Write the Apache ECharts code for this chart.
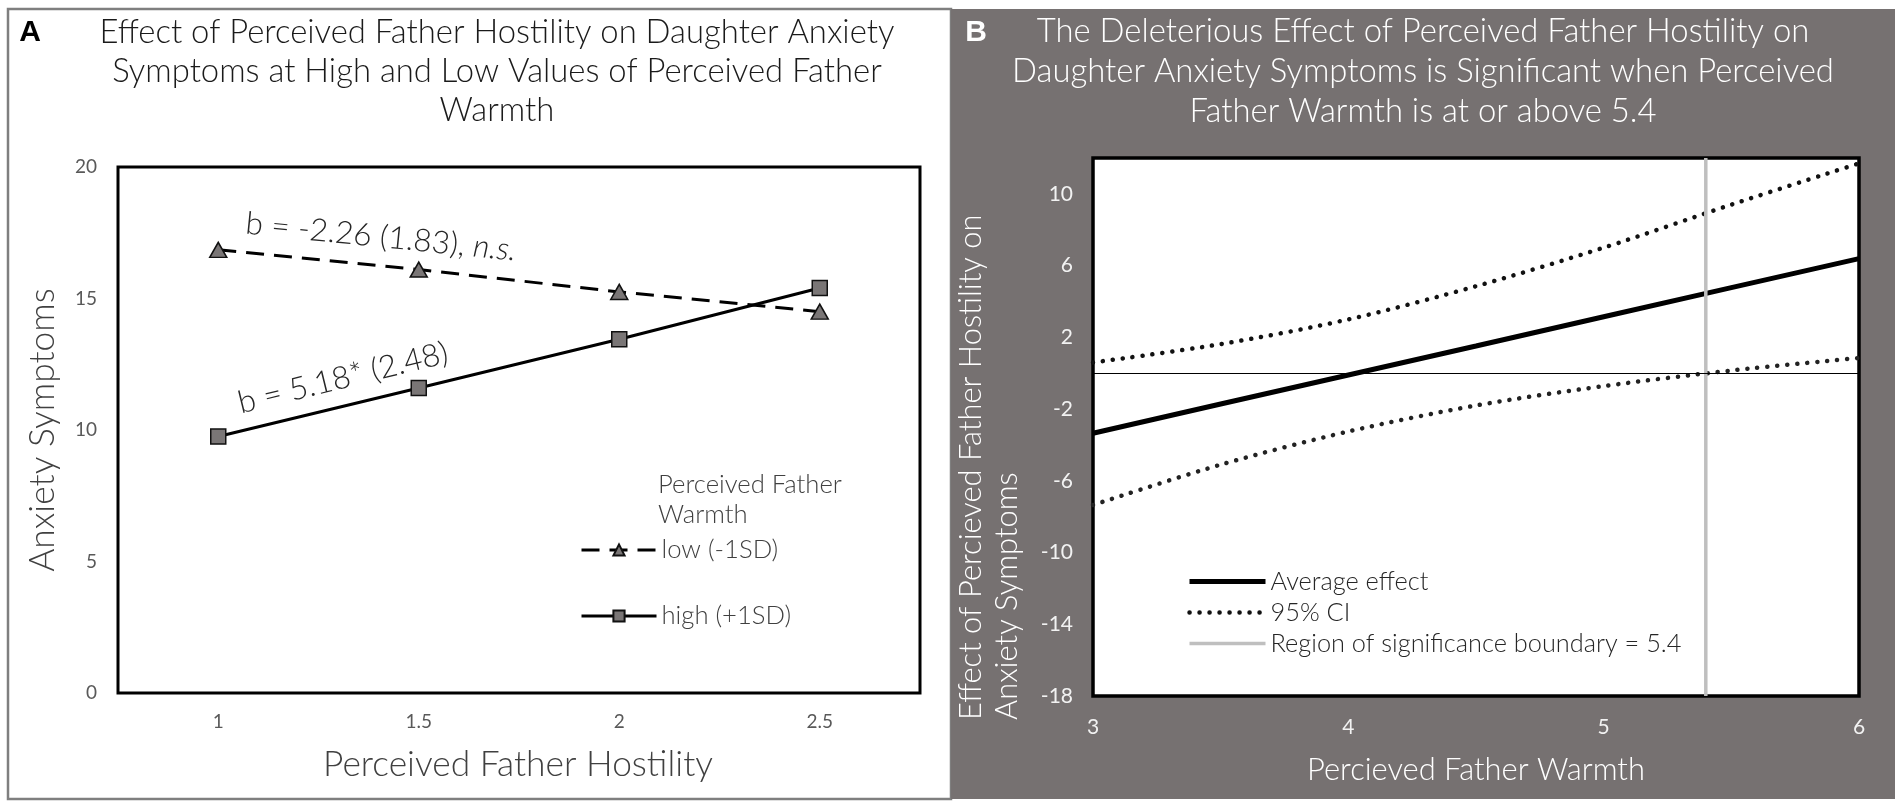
<!DOCTYPE html>
<html><head><meta charset="utf-8">
<script src="https://cdn.jsdelivr.net/npm/echarts@6/dist/echarts.min.js"></script>
<style>html,body{margin:0;padding:0;background:#fff;}#c{width:1904px;height:808px;}</style>
</head><body><div id="c"></div>
<script>
// ---- Panel A data ----
const hostility = ['1', '1.5', '2', '2.5'];
const lowWarmth = [16.85, 16.1, 15.25, 14.5];
const highWarmth = [9.75, 11.6, 13.45, 15.4];
const leftYTicks = [0, 5, 10, 15, 20];

// ---- Panel B data ----
const warmth = [3, 3.5, 4, 4.5, 5, 5.5, 6];
const avgEffect = [-3.35, -1.72, -0.1, 1.52, 3.15, 4.77, 6.39];
const ciUpper = [0.6, 1.62, 3.0, 4.85, 7.0, 9.4, 11.7];
const ciLower = [-7.35, -5.1, -3.25, -1.8, -0.72, 0.15, 0.85];
const sigBoundary = 5.4;
const rightYTicks = [-18, -14, -10, -6, -2, 2, 6, 10];
const rightYMax = 12;

const cv = document.createElement('canvas').getContext('2d');
function fit(text, weight, family, width) {
  cv.font = weight + ' 100px ' + family;
  return 100 * width / cv.measureText(text).width;
}
const F = 'Lato';
const titleSize = fit('Effect of Perceived Father Hostility on Daughter Anxiety', 300, F, 795);
const axTitleL = fit('Perceived Father Hostility', 300, F, 390);
const axTitleR = fit('Percieved Father Warmth', 300, F, 338);
const annotSize = fit('b = 5.18* (2.48)', 300, F, 215);
const legL = fit('Perceived Father', 300, F, 184);
const legR = fit('Average effect', 300, F, 158);

const pairs = (xs, ys) => xs.map((x, i) => [x, ys[i]]);

const chart = echarts.init(document.getElementById('c'));
const option = {
  animation: false,
  backgroundColor: '#fff',
  graphic: [
    { type: 'rect', z: -5, shape: { x: 8, y: 9, width: 943, height: 790 }, style: { fill: '#fff', stroke: '#7f7f7f', lineWidth: 2.5 } },
    { type: 'rect', z: -5, shape: { x: 951, y: 9, width: 944, height: 790 }, style: { fill: '#767171' } },
    { type: 'text', z: 100, x: 30, y: 33, style: { text: 'A', fontSize: 30, fontWeight: 'bold', fontFamily: 'Liberation Sans', fill: '#000', align: 'center', verticalAlign: 'middle' } },
    { type: 'text', z: 100, x: 976, y: 33, style: { text: 'B', fontSize: 30, fontWeight: 'bold', fontFamily: 'Liberation Sans', fill: '#fff', align: 'center', verticalAlign: 'middle' } },
    { type: 'text', z: 100, x: 497, y: 71, style: { text: 'Effect of Perceived Father Hostility on Daughter Anxiety\nSymptoms at High and Low Values of Perceived Father\nWarmth', fontSize: titleSize, fontWeight: 300, fontFamily: F, lineHeight: 39, fill: '#1a1a1a', align: 'center', verticalAlign: 'middle' } },
    { type: 'text', z: 100, x: 1423, y: 71, style: { text: 'The Deleterious Effect of Perceived Father Hostility on\nDaughter Anxiety Symptoms is Significant when Perceived\nFather Warmth is at or above 5.4', fontSize: titleSize, fontWeight: 300, fontFamily: F, lineHeight: 40, fill: '#fff', align: 'center', verticalAlign: 'middle' } },
    { type: 'text', z: 100, x: 43, y: 430, rotation: Math.PI / 2, style: { text: 'Anxiety Symptoms', fontSize: axTitleL, fontWeight: 300, fontFamily: F, fill: '#404040', align: 'center', verticalAlign: 'middle' } },
    { type: 'text', z: 100, x: 518, y: 765, style: { text: 'Perceived Father Hostility', fontSize: axTitleL, fontWeight: 300, fontFamily: F, fill: '#404040', align: 'center', verticalAlign: 'middle' } },
    { type: 'text', z: 100, x: 381, y: 237, rotation: -5.7 * Math.PI / 180, style: { text: '{n|b = -2.26 (1.83), }{i|n.s.}', rich: { n: { fontSize: annotSize, fontWeight: 300, fontFamily: F, fill: '#262626' }, i: { fontSize: annotSize, fontWeight: 300, fontFamily: F, fontStyle: 'italic', fill: '#262626' } }, align: 'center', verticalAlign: 'middle' } },
    { type: 'text', z: 100, x: 343, y: 378, rotation: 13.8 * Math.PI / 180, style: { text: 'b = 5.18* (2.48)', fontSize: annotSize, fontWeight: 300, fontFamily: F, fill: '#262626', align: 'center', verticalAlign: 'middle' } },
    { type: 'text', z: 100, x: 658, y: 470, style: { text: 'Perceived Father\nWarmth', fontSize: legL, fontWeight: 300, fontFamily: F, lineHeight: 30, fill: '#404040', align: 'left', verticalAlign: 'top' } },
    { type: 'text', z: 100, x: 953, y: 720, rotation: Math.PI / 2, style: { text: 'Effect of Percieved Father Hostility on\nAnxiety Symptoms', fontSize: axTitleR, fontWeight: 300, fontFamily: F, lineHeight: 36, fill: '#fff', align: 'left', verticalAlign: 'top' } },
    { type: 'text', z: 100, x: 1476, y: 770, style: { text: 'Percieved Father Warmth', fontSize: axTitleR, fontWeight: 300, fontFamily: F, fill: '#fff', align: 'center', verticalAlign: 'middle' } }
  ],
  grid: [
    { left: 118, top: 167, width: 802, height: 526, show: true, backgroundColor: '#fff', borderColor: '#000', borderWidth: 3, containLabel: false },
    { left: 1093, top: 158, width: 766, height: 538, show: true, backgroundColor: '#fff', borderColor: '#000', borderWidth: 3.5, containLabel: false }
  ],
  xAxis: [
    { type: 'category', gridIndex: 0, data: hostility, boundaryGap: true,
      axisLine: { show: false }, axisTick: { show: false }, splitLine: { show: false },
      axisLabel: { color: '#595959', fontSize: 19, fontFamily: F, margin: 19 } },
    { type: 'value', gridIndex: 1, min: 3, max: 6, interval: 1,
      axisLine: { show: false }, axisTick: { show: false }, splitLine: { show: false },
      axisLabel: { color: '#f2f2f2', fontSize: 21, fontFamily: F, margin: 21 } }
  ],
  yAxis: [
    { type: 'value', gridIndex: 0, min: leftYTicks[0], max: leftYTicks[leftYTicks.length - 1], interval: 5,
      axisLine: { show: false }, axisTick: { show: false }, splitLine: { show: false },
      axisLabel: { color: '#595959', fontSize: 19, fontFamily: F, margin: 21 } },
    { type: 'value', gridIndex: 1, min: rightYTicks[0], max: rightYMax, interval: 4,
      axisLine: { show: false }, axisTick: { show: false }, splitLine: { show: false },
      axisLabel: { color: '#f2f2f2', fontSize: 21, fontFamily: F, margin: 20, showMaxLabel: false } }
  ],
  legend: [
    { data: ['low (-1SD)', 'high (+1SD)'], orient: 'vertical', left: 575, top: 532, itemWidth: 75, itemHeight: 14, itemGap: 40, selectedMode: false,
      lineStyle: { width: 'inherit' },
      textStyle: { color: '#404040', fontSize: legL, fontWeight: 300, fontFamily: F, lineHeight: 24 } },
    { data: ['Average effect', '95% CI', 'Region of significance boundary = ' + sigBoundary], orient: 'vertical', left: 1182, top: 564, itemWidth: 76, itemHeight: 14, itemGap: 6, selectedMode: false,
      itemStyle: { opacity: 0 }, lineStyle: { width: 'inherit' },
      textStyle: { color: '#262626', fontSize: legR, fontWeight: 300, fontFamily: F, lineHeight: 22 } }
  ],
  series: [
    { name: 'low (-1SD)', type: 'line', xAxisIndex: 0, yAxisIndex: 0, data: lowWarmth,
      symbol: 'triangle', symbolSize: [17, 15],
      lineStyle: { color: '#000', width: 3, type: [18, 10] },
      itemStyle: { color: '#7a7676', borderColor: '#111', borderWidth: 1.5 } },
    { name: 'high (+1SD)', type: 'line', xAxisIndex: 0, yAxisIndex: 0, data: highWarmth,
      symbol: 'rect', symbolSize: 15,
      lineStyle: { color: '#000', width: 3 },
      itemStyle: { color: '#7a7676', borderColor: '#111', borderWidth: 1.5 } },
    { name: 'Average effect', type: 'line', xAxisIndex: 1, yAxisIndex: 1, data: pairs(warmth, avgEffect),
      symbol: 'none', lineStyle: { color: '#000', width: 5 }, itemStyle: { color: '#000' },
      markLine: { silent: true, symbol: 'none', label: { show: false }, lineStyle: { color: '#000', width: 1, type: 'solid' }, data: [{ yAxis: 0 }] } },
    { name: '95% CI', type: 'line', xAxisIndex: 1, yAxisIndex: 1, data: pairs(warmth, ciUpper), smooth: 0.3,
      symbol: 'none', lineStyle: { color: '#111', width: 4.5, type: [0.1, 9.9], cap: 'round' }, itemStyle: { color: '#111' } },
    { name: '95% CI', type: 'line', xAxisIndex: 1, yAxisIndex: 1, data: pairs(warmth, ciLower), smooth: 0.3,
      symbol: 'none', lineStyle: { color: '#222', width: 4.5, type: [0.1, 9.9], cap: 'round' }, itemStyle: { color: '#222' } },
    { name: 'Region of significance boundary = ' + sigBoundary, type: 'line', xAxisIndex: 1, yAxisIndex: 1,
      data: [[sigBoundary, rightYTicks[0]], [sigBoundary, rightYMax]],
      symbol: 'none', lineStyle: { color: '#bfbfbf', width: 3.5 }, itemStyle: { color: '#bfbfbf' } }
  ]
};
chart.setOption(option);
</script>
</body></html>
